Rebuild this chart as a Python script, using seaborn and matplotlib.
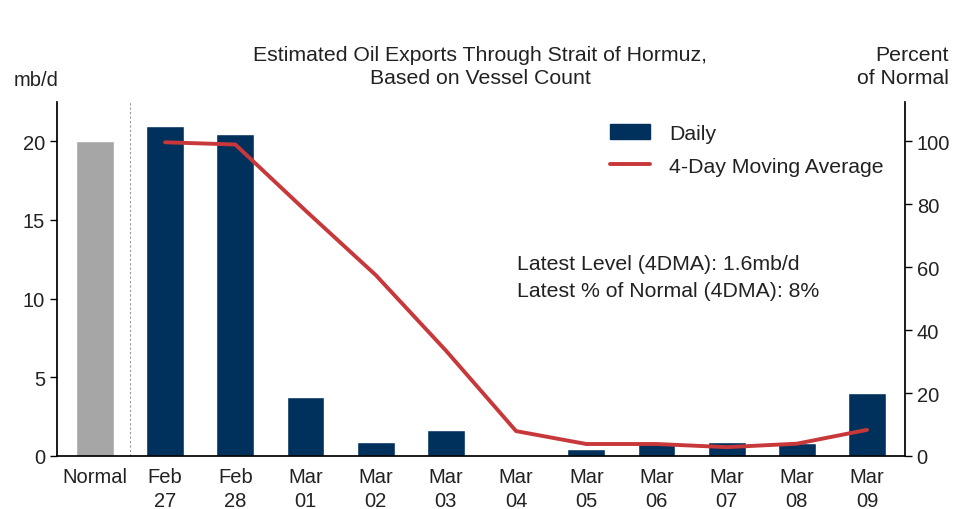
import numpy as np
import pandas as pd
import matplotlib
matplotlib.use('Agg')
from matplotlib import pyplot as plt
from matplotlib import patches as mpatches
from matplotlib.lines import Line2D
import seaborn as sns

# data
categories = ['Normal', 'Feb\n27', 'Feb\n28', 'Mar\n01', 'Mar\n02', 'Mar\n03',
              'Mar\n04', 'Mar\n05', 'Mar\n06', 'Mar\n07', 'Mar\n08', 'Mar\n09']
daily_mbd = [20.0, 21.0, 20.45, 3.75, 0.9, 1.65, 0.0, 0.45, 0.9, 0.9, 0.85, 4.0]
ma_dates = categories[1:]
ma_pct = [99.7, 99.0, 78.0, 57.5, 33.5, 7.9, 3.8, 3.8, 2.8, 3.9, 8.3]

navy = '#00315c'
grey = '#a6a6a6'
red = '#c8383a'
fs = 14.5      # tick labels
fs_txt = 15.3  # title, legend, notes

sns.set_theme(style='white')
plt.rcParams['font.family'] = ['Liberation Sans', 'DejaVu Sans']
plt.rcParams['text.color'] = '#222222'

bars = pd.DataFrame({'day': categories, 'mbd': daily_mbd})
line = pd.DataFrame({'day': ma_dates, 'pct': ma_pct})

fig = plt.figure(figsize=(9.57, 5.10), dpi=100)
ax = fig.add_axes([0.0596, 0.104, 0.886, 0.694])

sns.barplot(data=bars, x='day', y='mbd', hue='day', legend=False,
            palette=[grey] + [navy] * (len(categories) - 1), width=0.54,
            saturation=1, ax=ax)
ax.set_xlim(-0.54, len(categories) - 0.46)
ax.set_ylim(0, 22.5)
ax.set_yticks([0, 5, 10, 15, 20])
ax.set_xlabel('')
ax.set_ylabel('')

# separator between normal and the daily bars
ax.axvline(0.5, color='#999999', linestyle=(0, (2, 2)), linewidth=0.8)

# ticks between categories only
ax.set_xticks(np.arange(0.5, len(categories) - 1, 1), minor=True)
ax.tick_params(axis='x', which='major', length=0, labelsize=fs, pad=8, labelcolor='#222222')
ax.tick_params(axis='x', which='minor', length=5, width=1, direction='out', color='black')
ax.tick_params(axis='y', length=5, width=1, direction='out', color='black', labelsize=fs,
               left=True, labelcolor='#222222')
for lbl in ax.get_xticklabels():
    lbl.set_linespacing(1.3)

ax2 = ax.twinx()
sns.lineplot(data=line, x='day', y='pct', color=red, linewidth=2.8, ax=ax2)
ax2.set_ylim(0, 112.5)
ax2.set_yticks([0, 20, 40, 60, 80, 100])
ax2.set_ylabel('')
ax2.tick_params(axis='y', length=5, width=1, direction='out', color='black', labelsize=fs,
                right=True, labelcolor='#222222')
ax2.set_xlim(ax.get_xlim())

for a in (ax, ax2):
    a.spines['top'].set_visible(False)
    for side in ('left', 'right', 'bottom'):
        a.spines[side].set_color('black')
ax.spines['right'].set_visible(False)
ax2.spines['left'].set_visible(False)
ax2.spines['bottom'].set_visible(False)

# titles and axis captions
fig.text(0.502, 0.909, 'Estimated Oil Exports Through Strait of Hormuz,\nBased on Vessel Count',
         ha='center', va='top', fontsize=fs_txt, linespacing=1.24)
fig.text(0.014, 0.842, 'mb/d', ha='left', va='center', fontsize=fs)
fig.text(0.991, 0.909, 'Percent\nof Normal', ha='right', va='top', fontsize=fs_txt, linespacing=1.24)

fig.text(0.54, 0.5, 'Latest Level (4DMA): 1.6mb/d\nLatest % of Normal (4DMA): 8%',
         ha='left', va='top', fontsize=fs_txt, linespacing=1.55)

handles = [mpatches.Patch(color=navy, label='Daily'),
           Line2D([], [], color=red, linewidth=2.8, label='4-Day Moving Average')]
fig.legend(handles=handles, loc='upper left', bbox_to_anchor=(0.637, 0.755),
           frameon=False, fontsize=fs_txt, handlelength=1.9, handleheight=0.72,
           labelspacing=0.65, handletextpad=0.9, borderpad=0, borderaxespad=0)

fig.savefig('out.png', dpi=100, facecolor='white')
